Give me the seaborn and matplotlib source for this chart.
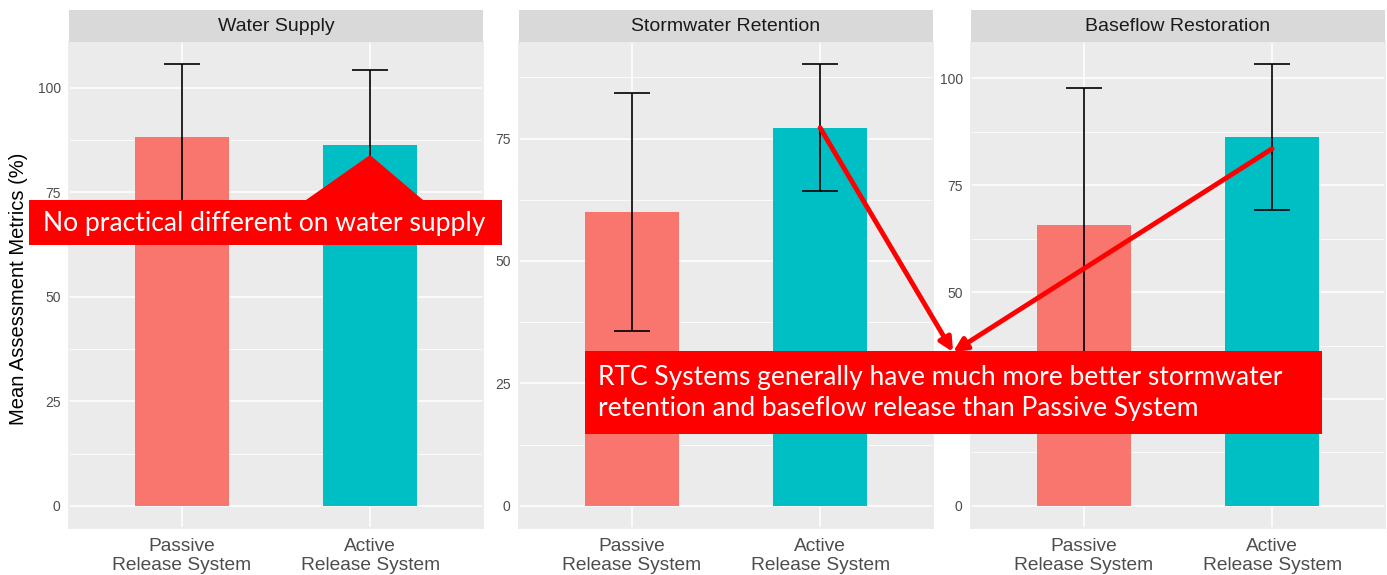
import matplotlib
matplotlib.use("Agg")
import matplotlib.pyplot as plt
import matplotlib.transforms as mtransforms
from matplotlib.patches import Polygon, Rectangle, ConnectionPatch
from matplotlib.ticker import MultipleLocator, AutoMinorLocator
import seaborn as sns
import pandas as pd

# values
metrics = ["Water Supply", "Stormwater Retention", "Baseflow Restoration"]
systems = ["Passive\nRelease System", "Active\nRelease System"]
passive_mean = [88.3, 60.1, 65.6]
active_mean = [86.4, 77.2, 86.3]
passive_err = [17.4, 24.3, 32.0]
active_err = [18.0, 13.0, 17.0]
colors = ["#F8766D", "#00BFC4"]

note_1 = "No practical different on water supply"
note_2 = ("RTC Systems generally have much more better stormwater\n"
          "retention and baseflow release than Passive System")

sns.set_theme(style="darkgrid", rc={
    "axes.facecolor": "#EBEBEB",
    "grid.color": "white",
    "axes.edgecolor": "#EBEBEB",
})
plt.rcParams["font.family"] = ["Liberation Sans", "DejaVu Sans"]

W, H = 1387, 575
fig = plt.figure(figsize=(W / 100, H / 100), dpi=100)
# pixel coords, origin top-left
px = mtransforms.Affine2D().scale(1 / W, -1 / H).translate(0, 1) + fig.transFigure

panel_left = [69, 519, 971]
panel_w = 414
top, bottom = 42, 528

axes = []
for i, name in enumerate(metrics):
    ax = fig.add_axes([panel_left[i] / W, (H - bottom) / H, panel_w / W, (bottom - top) / H])
    df = pd.DataFrame({"system": systems,
                       "value": [passive_mean[i], active_mean[i]],
                       "err": [passive_err[i], active_err[i]]})
    sns.barplot(data=df, x="system", y="value", hue="system", palette=colors,
                width=0.5, errorbar=None, legend=False, ax=ax, saturation=1,
                linewidth=0)
    ax.errorbar(x=range(len(df)), y=df["value"], yerr=df["err"], fmt="none",
                ecolor="black", elinewidth=1.2, capsize=13.3, capthick=1.2, zorder=5)
    hi = (df["value"] + df["err"]).max()
    ax.set_ylim(-0.05 * hi, hi * 1.05)
    ax.set_xlim(-0.6, 1.6)
    ax.yaxis.set_major_locator(MultipleLocator(25))
    ax.yaxis.set_minor_locator(AutoMinorLocator(2))
    ax.grid(which="major", color="white", lw=1.1)
    ax.grid(which="minor", color="white", lw=0.55)
    ax.set_axisbelow(True)
    ax.tick_params(axis="both", which="major", length=3.5, width=0.8, color="#333333",
                   pad=2.5, labelcolor="#4D4D4D")
    ax.tick_params(axis="y", labelsize=10)
    ax.tick_params(axis="x", labelsize=13.8, pad=4)
    ax.tick_params(which="minor", length=0)
    ax.set_xlabel("")
    ax.set_ylabel("")
    for lab in ax.get_xticklabels():
        lab.set_linespacing(1.1)
    # facet strip
    sax = fig.add_axes([panel_left[i] / W, (H - top) / H, panel_w / W, 32 / H])
    sax.set_facecolor("#D9D9D9")
    sax.set_xticks([])
    sax.set_yticks([])
    sax.grid(False)
    for s in sax.spines.values():
        s.set_visible(False)
    sax.text(0.5, 0.47, name, ha="center", va="center", fontsize=14, color="#1A1A1A",
             transform=sax.transAxes)
    axes.append(ax)

# the "25" label of the last panel sits under the second note
fig.canvas.draw()
for lab in axes[2].get_yticklabels():
    if lab.get_text() == "25":
        lab.set_visible(False)

fig.text(19, 289, "Mean Assessment Metrics (%)", rotation=90, ha="center", va="center",
         fontsize=14.5, color="black", transform=px)

# callout for water supply
callout = Polygon([(29, 245), (29, 200), (306, 200), (370, 155), (423, 200),
                   (502, 200), (502, 245)], closed=True, facecolor="#FF0000",
                  edgecolor="none", transform=px, zorder=10)
fig.add_artist(callout)
fig.text(43, 223, note_1, ha="left", va="center", fontsize=19.1, color="white",
         family=["Lato", "DejaVu Sans"], transform=px, zorder=11)

# arrows to the second note
for ax, x, y in [(axes[1], 1, active_mean[1]), (axes[2], 1, 83.5)]:
    con = ConnectionPatch(xyA=(x, y), coordsA=ax.transData, xyB=(953, 352), coordsB=px,
                          arrowstyle="-|>", color="#FF0000", lw=3.5, mutation_scale=20,
                          shrinkA=0, shrinkB=0, zorder=12)
    fig.add_artist(con)

box = Rectangle((585, 351), 737, 83, facecolor="#FF0000", edgecolor="none",
                transform=px, zorder=10)
fig.add_artist(box)
fig.text(598, 393, note_2, ha="left", va="center", fontsize=19.0, color="white",
         family=["Lato", "DejaVu Sans"], linespacing=1.32, transform=px, zorder=11)

fig.savefig("out.png", dpi=100)
